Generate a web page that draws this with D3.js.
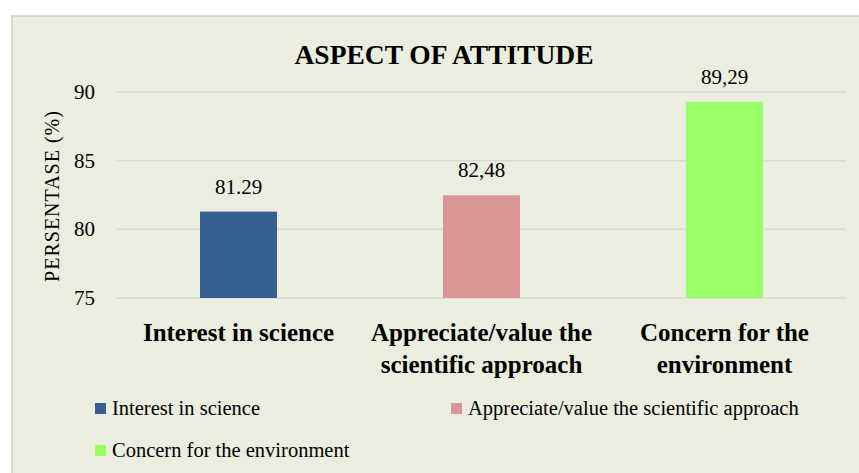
<!DOCTYPE html>
<html>
<head>
<meta charset="utf-8">
<title>Aspect of attitude</title>
<style>
  body { margin: 0; background: #fff; }
  text { font-family: "Liberation Serif", "DejaVu Serif", serif; fill: #000; }
</style>
</head>
<body>
<div id="chart"></div>
<script src="https://cdn.jsdelivr.net/npm/d3@7/dist/d3.min.js"></script>
<script>
var categories = ['Interest in science', 'Appreciate/value the scientific approach', 'Concern for the environment'];
var catLines = [['Interest in science'], ['Appreciate/value the', 'scientific approach'], ['Concern for the', 'environment']];
var values = [81.29, 82.48, 89.29];
var valueLabels = ['81.29', '82,48', '89,29'];
var colors = ['#365F91', '#D99694', '#99FF66'];
var yTicks = [75, 80, 85, 90];

var W = 859, H = 473;
var svg = d3.select('#chart').append('svg')
  .attr('width', W).attr('height', H);

// chart background panel (runs off the right and bottom edges)
svg.append('rect')
  .attr('x', 12).attr('y', 16)
  .attr('width', W).attr('height', H)
  .attr('fill', '#EBEEDE')
  .attr('stroke', '#D9D9D9').attr('stroke-width', 2);

var x = d3.scaleBand().domain(categories).range([117, 846]);
var y = d3.scaleLinear().domain([75, 90]).range([298, 92]);
var barW = 77;
var cx = i => x(categories[i]) + x.bandwidth() / 2;

// gridlines
svg.selectAll('.grid').data(yTicks).enter().append('line')
  .attr('x1', 117).attr('x2', 846)
  .attr('y1', d => y(d)).attr('y2', d => y(d))
  .attr('stroke', '#D9D9D9').attr('stroke-width', 1.5);

// y tick labels
svg.selectAll('.ytick').data(yTicks).enter().append('text')
  .attr('x', 95).attr('y', d => y(d) + 7)
  .attr('text-anchor', 'end')
  .style('font-size', '21px')
  .text(d => d);

// bars
svg.selectAll('.bar').data(values).enter().append('rect')
  .attr('x', (d, i) => cx(i) - barW / 2)
  .attr('y', d => y(d))
  .attr('width', barW)
  .attr('height', d => y(75) - y(d))
  .attr('fill', (d, i) => colors[i]);

// value labels
svg.selectAll('.val').data(values).enter().append('text')
  .attr('x', (d, i) => cx(i))
  .attr('y', d => y(d) - 18)
  .attr('text-anchor', 'middle')
  .style('font-size', '21px')
  .text((d, i) => valueLabels[i]);

// category labels
catLines.forEach(function(lines, i) {
  var t = svg.append('text')
    .attr('text-anchor', 'middle')
    .style('font-size', '25px')
    .style('font-weight', 'bold');
  lines.forEach(function(l, j) {
    t.append('tspan')
      .attr('x', cx(i))
      .attr('y', 341 + j * 32)
      .text(l);
  });
});

// title
svg.append('text')
  .attr('x', 444).attr('y', 64)
  .attr('text-anchor', 'middle')
  .style('font-size', '27.5px')
  .style('font-weight', 'bold')
  .text('ASPECT OF ATTITUDE');

// y axis title
svg.append('text')
  .attr('transform', 'translate(59,196) rotate(-90)')
  .attr('text-anchor', 'middle')
  .style('font-size', '20px')
  .style('letter-spacing', '1px')
  .text('PERSENTASE (%)');

// legend
var legendPos = [[95, 415], [451, 415], [95, 457]];
categories.forEach(function(c, i) {
  var g = svg.append('g').attr('transform', 'translate(' + legendPos[i][0] + ',' + legendPos[i][1] + ')');
  g.append('rect').attr('x', 0).attr('y', -12).attr('width', 11).attr('height', 11).attr('fill', colors[i]);
  g.append('text').attr('x', 17).attr('y', 0).style('font-size', '20.5px').text(c);
});
</script>
</body>
</html>
